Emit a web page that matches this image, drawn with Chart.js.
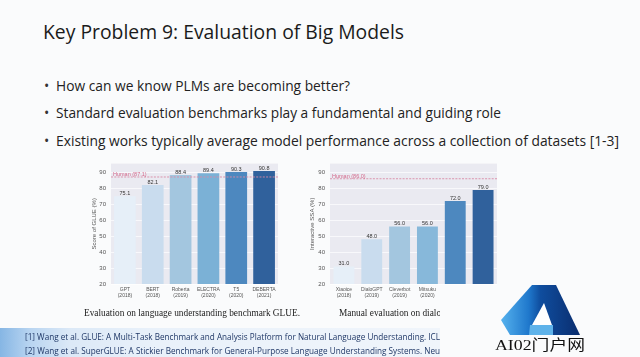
<!DOCTYPE html>
<html><head><meta charset="utf-8">
<script src="https://cdn.jsdelivr.net/npm/chart.js@4.4.0/dist/chart.umd.min.js"></script>
<style>
html,body{margin:0;padding:0;width:640px;height:357px;overflow:hidden;background:#fafbfc;}
.t{position:absolute;white-space:nowrap;line-height:1;transform-origin:0 0;font-family:"Open Sans","Noto Sans",sans-serif;}
#title{left:43px;top:22px;font-size:20px;color:#1b1b1b;}
.dot{font-size:14px;color:#333;left:44px;}
.b{font-size:14px;color:#222;left:56px;}
.cap{font-family:"Liberation Serif","DejaVu Serif",serif;font-size:10px;color:#222;top:308px;}
.fn{font-size:9px;color:#1f3766;left:25px;}
#band{position:absolute;left:0;top:328px;width:440px;height:29px;
 background:linear-gradient(to right,#86b6e4 0%,#b9d5f1 7%,#dce9f7 16%,#e9f1fa 35%,#f0f5fb 100%);}
#cover{position:absolute;left:440px;top:285px;right:0;bottom:0;background:#fafbfc;}
canvas{position:absolute;}
#logoText{font-family:"Liberation Serif","Noto Sans CJK SC",serif;font-size:15px;color:#111;left:495px;top:338px;}
</style></head><body>

<div id="title" class="t" data-w="361">Key Problem 9: Evaluation of Big Models</div>
<div class="t dot" style="top:79px">•</div>
<div class="t b" style="top:79px" data-w="294">How can we know PLMs are becoming better?</div>
<div class="t dot" style="top:106px">•</div>
<div class="t b" style="top:106px" data-w="445">Standard evaluation benchmarks play a fundamental and guiding role</div>
<div class="t dot" style="top:134px">•</div>
<div class="t b" style="top:134px" data-w="563">Existing works typically average model performance across a collection of datasets [1-3]</div>

<canvas id="c1" width="200" height="155" style="left:82px;top:155px;width:200px;height:155px"></canvas>
<canvas id="c2" width="210" height="155" style="left:298px;top:155px;width:210px;height:155px"></canvas>

<div id="cap1" class="t cap" style="left:84px" data-w="216">Evaluation on language understanding benchmark GLUE.</div>
<div id="cap2" class="t cap" style="left:339px">Manual evaluation on dialogue generation benchmark.</div>

<div id="band"></div>
<div id="fn1" class="t fn" style="top:332px" data-prefix="[1] Wang et al. GLUE: A Multi-Task Benchmark and Analysis Platform for Natural Language Understanding. ICL">[1] Wang et al. GLUE: A Multi-Task Benchmark and Analysis Platform for Natural Language Understanding. ICLR 2019.</div>
<div id="fn2" class="t fn" style="top:346px" data-prefix="[2] Wang et al. SuperGLUE: A Stickier Benchmark for General-Purpose Language Understanding Systems. Neu">[2] Wang et al. SuperGLUE: A Stickier Benchmark for General-Purpose Language Understanding Systems. NeurIPS 2019.</div>

<div id="cover"></div>
<svg width="110" height="56" viewBox="495 281 110 56" style="position:absolute;left:495px;top:281px">
 <defs><linearGradient id="lg" x1="0" y1="0" x2="1" y2="0">
  <stop offset="0" stop-color="#56b2ee"/><stop offset="0.35" stop-color="#1f78cc"/>
  <stop offset="0.5" stop-color="#0f4d9e"/><stop offset="1" stop-color="#0a2d6e"/></linearGradient></defs>
 <polygon points="532,285 556,285 580,335 524,335 520,335 510,335 501,320" fill="url(#lg)"/>
 <polygon points="544,303 552,325 532,325" fill="#ffffff"/>
 <polygon points="530,325 553,325 553,335 529,335" fill="#5fb3ea"/>
</svg>
<div id="logoText" class="t" data-w="90">AI02门户网</div>

<script>
// ---- data ----
const yTicks = [20, 30, 40, 50, 60, 70, 80, 90];

const glueModels = ['GPT', 'BERT', 'Roberta', 'ELECTRA', 'T5', 'DEBERTA'];
const glueYears  = ['(2018)', '(2018)', '(2019)', '(2020)', '(2020)', '(2021)'];
const glueScores = [75.1, 82.1, 88.4, 89.4, 90.3, 90.8];
const glueHuman  = 87.1;

const dialogModels = ['Xiaoice', 'DialoGPT', 'Cleverbot', 'Mitsuku', 'Meena', 'Meena'];
const dialogYears  = ['(2018)', '(2019)', '(2019)', '(2020)', '(2020)', '(2020)'];
const dialogSSA    = [31.0, 48.0, 56.0, 56.0, 72.0, 79.0];
const dialogHuman  = 86.0;

const glueColors   = ['#e6eff8', '#c9dcee', '#a3c6df', '#7bb1d6', '#4d88bf', '#30619c'];
const dialogColors = ['#e6eff8', '#c9dcee', '#a3c6df', '#87b8da', '#4d88bf', '#30619c'];

// ---- text fitting ----
function fitTexts(){
  document.querySelectorAll('[data-w]').forEach(el=>{
    el.style.transform='none';
    const w = el.getBoundingClientRect().width;
    const s = parseFloat(el.dataset.w)/w;
    el.style.transform='scaleX('+s+')';
    el._s=s;
  });
  const c1=document.getElementById('cap1'), c2=document.getElementById('cap2');
  c2.style.transform='scaleX('+c1._s+')';
  const cv=document.createElement('canvas').getContext('2d');
  document.querySelectorAll('[data-prefix]').forEach(el=>{
    const cs=getComputedStyle(el);
    cv.font=cs.fontSize+' '+cs.fontFamily;
    const w=cv.measureText(el.dataset.prefix).width;
    el.style.transform='scaleX('+(415/w)+')';
  });
}

// ---- plugins ----
const bgPlugin = {id:'bg', beforeDraw(c){
  const {left,top,width,height}=c.chartArea; const ctx=c.ctx;
  ctx.save(); ctx.fillStyle='#eaeaf1'; ctx.fillRect(left,top,width,height); ctx.restore();
}};
const humanPlugin = {id:'human', afterDatasetsDraw(c,a,o){
  const y=c.scales.y.getPixelForValue(o.value); const {left,right}=c.chartArea; const ctx=c.ctx;
  ctx.save();
  ctx.strokeStyle='#d98aa5'; ctx.lineWidth=0.9; ctx.setLineDash([2,1.3]);
  ctx.beginPath(); ctx.moveTo(left,y); ctx.lineTo(right,y); ctx.stroke();
  ctx.setLineDash([]);
  ctx.fillStyle='#d46a8c'; ctx.font='5.5px "Liberation Sans"'; ctx.textBaseline='alphabetic'; ctx.textAlign='left';
  ctx.fillText('Human ('+o.value.toFixed(1)+')', left+2, y-1);
  ctx.restore();
}};
const labelPlugin = {id:'vals', afterDatasetsDraw(c){
  const ctx=c.ctx; const meta=c.getDatasetMeta(0); const d=c.data.datasets[0].data;
  ctx.save(); ctx.fillStyle='#333'; ctx.font='5.5px "Liberation Sans"'; ctx.textAlign='center'; ctx.textBaseline='alphabetic';
  meta.data.forEach((b,i)=>ctx.fillText(d[i].toFixed(1), b.x, b.y-1.2));
  ctx.restore();
}};

function makeChart(id, models, years, values, colors, human, yTitle, yW, rightPad, titlePad, barPct){
  return new Chart(document.getElementById(id), {
    type:'bar',
    data:{labels: models.map((m,i)=>[m, years[i]]),
      datasets:[{data:values, backgroundColor:colors, borderWidth:0, barPercentage:barPct, categoryPercentage:1}]},
    options:{
      responsive:false, animation:false, devicePixelRatio:1,
      layout:{padding:{top:5, right:rightPad, left:0, bottom:0}},
      plugins:{legend:{display:false}, tooltip:{enabled:false}, human:{value:human}},
      scales:{
        x:{grid:{display:false, drawTicks:false}, border:{display:false},
           ticks:{font:{family:'Liberation Sans', size:5, lineHeight:1.15}, color:'#555', padding:3, maxRotation:0, autoSkip:false},
           afterFit:s=>{s.height=26;}},
        y:{min:20, max:95.5,
           afterBuildTicks:a=>{a.ticks=yTicks.map(v=>({value:v}));},
           grid:{color:'rgba(255,255,255,0.85)', lineWidth:0.8, drawTicks:false}, border:{display:false},
           ticks:{font:{family:'Liberation Sans', size:6}, color:'#555', padding:5},
           title:{display:true, text:yTitle, font:{family:'Liberation Sans', size:6}, color:'#555', padding:{top:titlePad, bottom:0}},
           afterFit:s=>{s.width=yW;}}
      }
    },
    plugins:[bgPlugin, humanPlugin, labelPlugin]
  });
}

fitTexts();
makeChart('c1', glueModels, glueYears, glueScores, glueColors, glueHuman, 'Score of GLUE (%)', 29, 4, 9, 0.78);
makeChart('c2', dialogModels, dialogYears, dialogSSA, dialogColors, dialogHuman, 'Interactive SSA (%)', 32, 11, 11, 0.75);
</script>
</body></html>
